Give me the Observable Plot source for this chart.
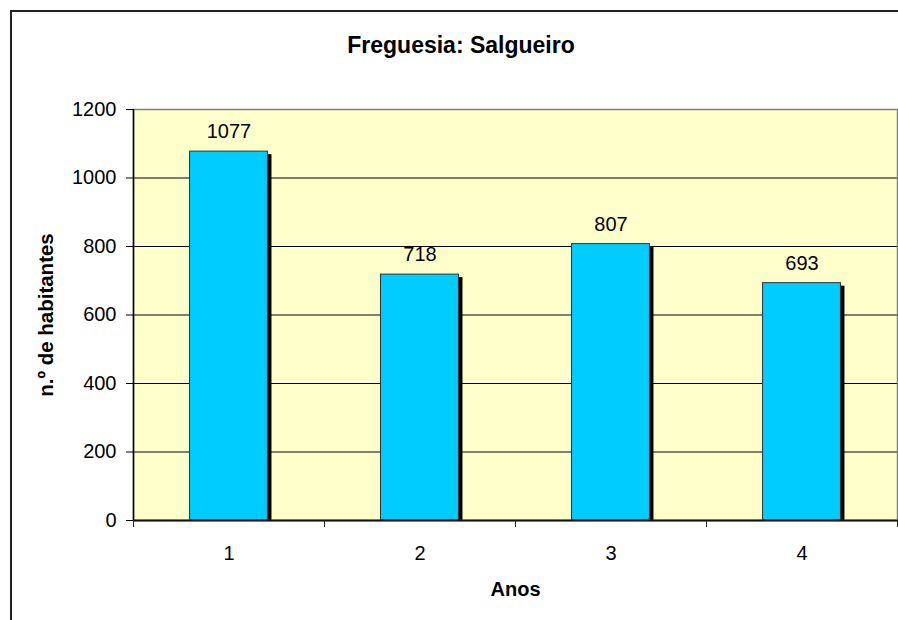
<!DOCTYPE html>
<html>
<head>
<meta charset="utf-8">
<script src="https://cdn.jsdelivr.net/npm/d3@7"></script>
<script src="https://cdn.jsdelivr.net/npm/@observablehq/plot@0.6"></script>
<style>
  html, body { margin: 0; padding: 0; background: white; overflow: hidden; }
  #wrap { position: relative; width: 898px; height: 620px; }
  #border { position: absolute; left: 10px; top: 10px; width: 1000px; height: 1000px;
            border-left: 2px solid #222; border-top: 2px solid #222; pointer-events: none; z-index: 2; }
  svg { font-family: "Liberation Sans", Arial, sans-serif; }
</style>
</head>
<body>
<div id="wrap"><div id="border"></div></div>
<script>
const title = "Freguesia: Salgueiro";
const xTitle = "Anos";
const yTitle = "n.º de habitantes";
const anos = [1, 2, 3, 4];
const habitantes = [1077, 718, 807, 693];
const yTicks = [0, 200, 400, 600, 800, 1000, 1200];
const gridTicks = [200, 400, 600, 800, 1000];
const xBounds = [0.5, 1.5, 2.5, 3.5, 4.5];

const data = anos.map((a, i) => ({ano: a, valor: habitantes[i]}));
const half = 0.204;

const chart = Plot.plot({
  width: 898,
  height: 620,
  marginTop: 109,
  marginLeft: 133,
  marginRight: 1,
  marginBottom: 100,
  style: {fontFamily: "'Liberation Sans', Arial, sans-serif", background: "transparent"},
  x: {domain: [0.5, 4.5]},
  y: {domain: [0, 1200]},
  marks: [
    Plot.frame({fill: "#FFFFCC", stroke: "none"}),
    Plot.gridY(gridTicks, {stroke: "black", strokeOpacity: 1, strokeWidth: 1}),
    Plot.rectY(data, {x1: d => d.ano - half, x2: d => d.ano + half, y1: 0, y2: "valor",
      fill: "black", dx: 4, dy: 3, clip: true}),
    Plot.rectY(data, {x1: d => d.ano - half, x2: d => d.ano + half, y1: 0, y2: "valor",
      fill: "#00CCFF", stroke: "#333", strokeWidth: 1}),
    Plot.frame({stroke: "#808080", strokeWidth: 1.5}),
    Plot.ruleX([0.5], {stroke: "black", strokeWidth: 1.5}),
    Plot.ruleY([0], {stroke: "#111", strokeWidth: 2}),
    Plot.axisY({ticks: yTicks, tickSize: 7, tickPadding: 10, fontSize: 20, label: null,
      stroke: "black", tickFormat: d => String(d)}),
    Plot.axisX({ticks: xBounds, tickSize: 7, tickFormat: () => "", label: null, stroke: "#222"}),
    Plot.text(anos, {x: d => d, frameAnchor: "bottom", lineAnchor: "middle", dy: 33, fontSize: 20, fill: "black"}),
    Plot.text(data, {x: "ano", y: "valor", text: d => String(d.valor), dy: -20, fontSize: 20, fill: "black"}),
    Plot.text([xTitle], {frameAnchor: "bottom", lineAnchor: "middle", dy: 69, fontSize: 20, fontWeight: "bold", fill: "black"}),
    Plot.text([yTitle], {frameAnchor: "left", textAnchor: "middle", lineAnchor: "middle", dx: -87, rotate: -90, fontSize: 20.5, fontWeight: "bold", fill: "black"}),
    Plot.text([title], {frameAnchor: "top", lineAnchor: "middle", dx: -54.5, dy: -64, fontSize: 23, fontWeight: "bold", fill: "black"})
  ]
});
document.getElementById("wrap").appendChild(chart);
</script>
</body>
</html>
